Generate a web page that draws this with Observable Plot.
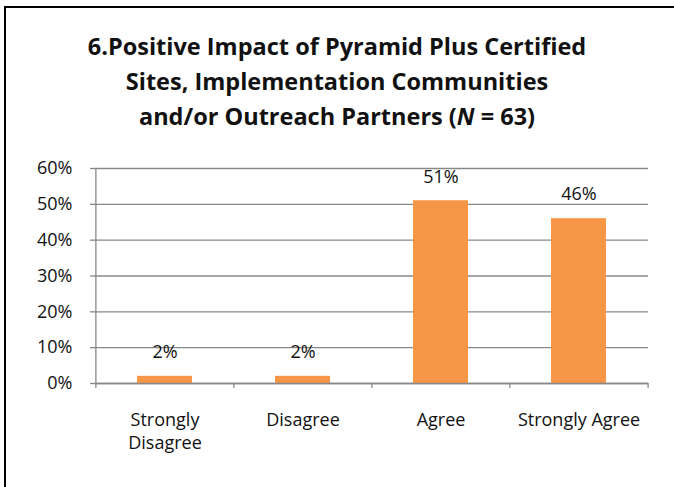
<!DOCTYPE html>
<html>
<head>
<meta charset="utf-8">
<script src="https://cdn.jsdelivr.net/npm/d3@7"></script>
<script src="https://cdn.jsdelivr.net/npm/@observablehq/plot@0.6"></script>
<style>
  html, body { margin: 0; padding: 0; background: #fff; }
  body { width: 674px; height: 487px; position: relative; overflow: hidden; font-family: "Open Sans", sans-serif; }
  #frame { position: absolute; left: 4px; top: 6px; width: 700px; height: 479px;
           border-left: 2px solid #000; border-top: 2px solid #000; border-bottom: 1px solid #9a9a9a; }
  #title { position: absolute; left: 0; top: 29px; width: 674px; text-align: center;
           font-family: "Open Sans", sans-serif; font-weight: 700; font-size: 23.5px; line-height: 35px; color: #111; }
  #chart { position: absolute; left: 0; top: 150px; }
</style>
</head>
<body>
<div id="frame"></div>
<div id="title">6.Positive Impact of Pyramid Plus Certified<br>Sites, Implementation Communities<br>and/or Outreach Partners (<i>N</i> = 63)</div>
<div id="chart"></div>
<script>
const categories = ["Strongly Disagree", "Disagree", "Agree", "Strongly Agree"];
const categoryLabels = ["Strongly\nDisagree", "Disagree", "Agree", "Strongly Agree"];
const values = [0.02, 0.02, 0.51, 0.46];
const valueLabels = ["2%", "2%", "51%", "46%"];
const yTicks = [0, 0.1, 0.2, 0.3, 0.4, 0.5, 0.6];

const data = categories.map((c, i) => ({category: c, label: categoryLabels[i], value: values[i], text: valueLabels[i]}));

const W = 674, H = 318, mL = 95, mR = 26, mT = 18, mB = 85;
const bw = (W - mL - mR) / categories.length;
const plotH = H - mT - mB;
const grid = "#888888";

const chart = Plot.plot({
  width: W, height: H,
  marginLeft: mL, marginRight: mR, marginTop: mT, marginBottom: mB,
  style: {fontFamily: "Open Sans, sans-serif", fontSize: "18px", color: "#111", background: "transparent"},
  x: {domain: categories, paddingInner: 0.6, paddingOuter: 0.3, align: 0.5, axis: null},
  y: {domain: [0, 0.6], axis: null},
  marks: [
    Plot.gridY(yTicks, {stroke: grid, strokeOpacity: 1, strokeWidth: 1.3}),
    Plot.axisY(yTicks, {tickFormat: d => Math.round(d * 100) + "%", tickSize: 5, stroke: grid, strokeWidth: 1.3, tickPadding: 18, fontSize: 18, fill: "#111", label: null}),
    // left axis line and category boundary ticks
    Plot.ruleX(categories.slice(0, 1), {x: d => d, dx: -bw / 2, stroke: grid, strokeWidth: 1.3, insetBottom: -5}),
    Plot.ruleX(categories.slice(1), {x: d => d, dx: -bw / 2, stroke: grid, strokeWidth: 1.3, insetTop: plotH, insetBottom: -5}),
    Plot.ruleX(categories.slice(-1), {x: d => d, dx: bw / 2, stroke: grid, strokeWidth: 1.3, insetTop: plotH, insetBottom: -5}),
    Plot.barY(data, {x: "category", y: "value", fill: "#F79646"}),
    Plot.text(data, {x: "category", y: "value", text: "text", dy: -24, lineAnchor: "middle", fontSize: 18, fill: "#111"}),
    Plot.text(data, {x: "category", text: "label", frameAnchor: "bottom", lineAnchor: "top", dy: 25, fontSize: 18, fill: "#111", lineHeight: 1.33}),
    Plot.ruleY([0], {stroke: grid, strokeWidth: 1.3})
  ]
});
document.getElementById("chart").appendChild(chart);
</script>
</body>
</html>
